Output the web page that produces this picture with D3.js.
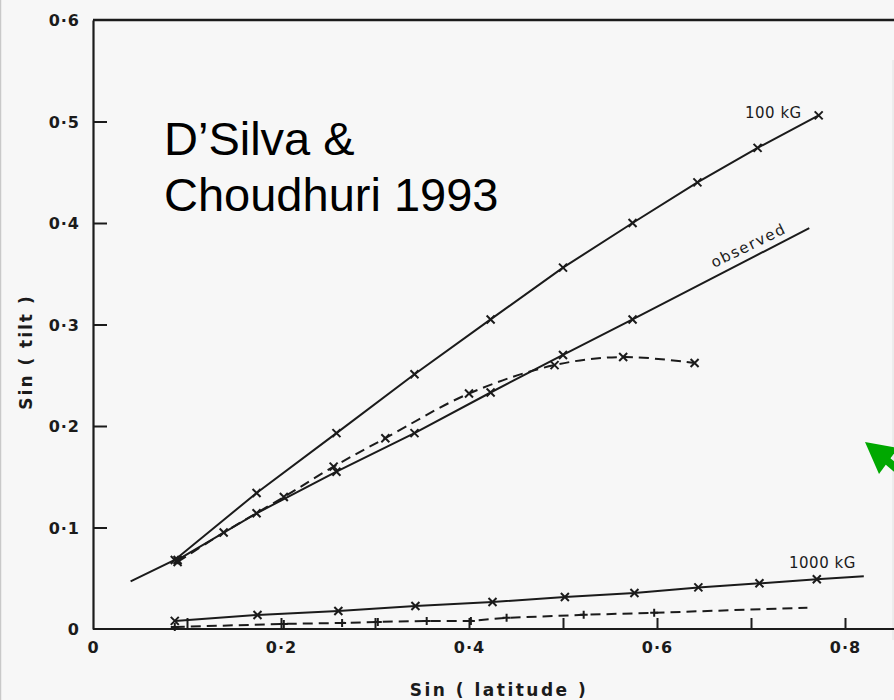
<!DOCTYPE html>
<html><head><meta charset="utf-8">
<script src="https://cdn.jsdelivr.net/npm/d3@7"></script>
<style>
html,body{margin:0;padding:0;background:#f7f7f7;}
svg{display:block;}
</style></head><body>
<svg id="c" width="894" height="700"></svg>
<script>
// ---- data ----
const lat100 = [0.040, 0.087, 0.174, 0.259, 0.342, 0.423, 0.500, 0.574, 0.643, 0.707, 0.772];
const tilt100 = [0.047, 0.068, 0.134, 0.193, 0.251, 0.305, 0.356, 0.400, 0.440, 0.474, 0.506];

const latObs = [0.090, 0.174, 0.259, 0.342, 0.423, 0.500, 0.574, 0.762];
const tiltObs = [0.068, 0.114, 0.155, 0.193, 0.233, 0.270, 0.305, 0.395];

const latObsData = [0.090, 0.139, 0.203, 0.256, 0.311, 0.400, 0.491, 0.564, 0.640];
const tiltObsData = [0.066, 0.095, 0.130, 0.160, 0.188, 0.232, 0.260, 0.268, 0.262];

const lat1000 = [0.087, 0.175, 0.261, 0.343, 0.425, 0.502, 0.576, 0.644, 0.709, 0.770, 0.820];
const tilt1000 = [0.008, 0.0138, 0.0177, 0.0227, 0.0266, 0.0315, 0.0355, 0.041, 0.045, 0.049, 0.052];

const lat1000d = [0.087, 0.203, 0.265, 0.303, 0.355, 0.402, 0.440, 0.522, 0.597, 0.760];
const tilt1000d = [0.002, 0.005, 0.006, 0.007, 0.008, 0.008, 0.011, 0.014, 0.016, 0.021];

const yTickValues = [0, 0.1, 0.2, 0.3, 0.4, 0.5, 0.6];
const xTickValues = [0, 0.1, 0.2, 0.3, 0.4, 0.5, 0.6, 0.7, 0.8];
const xLabelValues = [0, 0.2, 0.4, 0.6, 0.8];

const yTitle = "Sin ( tilt )";
const xTitle = "Sin ( latitude )";
const note = ["D\u2019Silva &", "Choudhuri 1993"];

// ---- drawing ----
const W = 894, H = 700;
const svg = d3.select("#c");
const x = d3.scaleLinear().domain([0, 0.8]).range([93, 845]);
const y = d3.scaleLinear().domain([0, 0.6]).range([629, 20]);
const ink = "#1b1b1b";
const fmt = v => v === 0 ? "0" : d3.format(".1f")(v).replace(".", "\u00b7");

// page border lines (scan edges)
svg.append("line").attr("x1", 0.5).attr("x2", 0.5).attr("y1", 0).attr("y2", H)
  .attr("stroke", "#c9c9c9").attr("stroke-width", 1.5);
svg.append("line").attr("x1", W - 1).attr("x2", W - 1).attr("y1", 60).attr("y2", 640)
  .attr("stroke", "#e2e2e2").attr("stroke-width", 1);

// axes
const yAxis = d3.axisLeft(y).tickValues(yTickValues).tickFormat(fmt)
  .tickSizeInner(-14).tickSizeOuter(0).tickPadding(13);
const gy = svg.append("g").attr("transform", `translate(${x(0)},0)`).call(yAxis);
gy.select(".domain").attr("stroke", ink).attr("stroke-width", 2.2);
gy.selectAll(".tick line").attr("stroke", ink).attr("stroke-width", 2)
  .filter(d => d === 0 || d === 0.6).remove();
gy.selectAll(".tick text").attr("fill", ink)
  .style("font-family", "DejaVu Sans").style("font-size", "16px").style("font-weight", "bold")
  .style("letter-spacing", "1px").attr("dy", "0.36em");

const xAxis = d3.axisBottom(x).tickValues(xTickValues)
  .tickFormat(d => xLabelValues.includes(d) ? fmt(d) : "")
  .tickSizeInner(-11).tickSizeOuter(0).tickPadding(13);
const gx = svg.append("g").attr("transform", `translate(0,${y(0)})`).call(xAxis);
gx.select(".domain").remove();
gx.selectAll(".tick line").attr("stroke", ink).attr("stroke-width", 2)
  .filter(d => d === 0).remove();
gx.selectAll(".tick text").attr("fill", ink)
  .style("font-family", "DejaVu Sans").style("font-size", "16px").style("font-weight", "bold")
  .style("letter-spacing", "1px");
// bottom & top frame lines extending to the page edge
svg.append("line").attr("x1", x(0)).attr("x2", W).attr("y1", y(0)).attr("y2", y(0))
  .attr("stroke", ink).attr("stroke-width", 2.2);
svg.append("line").attr("x1", x(0)).attr("x2", W).attr("y1", y(0.6)).attr("y2", y(0.6))
  .attr("stroke", ink).attr("stroke-width", 2.6);

// axis titles
svg.append("text").attr("transform", `translate(26,352) rotate(-90)`)
  .attr("text-anchor", "middle").attr("dy", "0.35em").attr("fill", ink)
  .style("font-family", "DejaVu Sans").style("font-size", "17px").style("font-weight", "bold")
  .style("letter-spacing", "2px").text(yTitle);
svg.append("text").attr("x", 499).attr("y", 696).attr("text-anchor", "middle").attr("fill", ink)
  .style("font-family", "DejaVu Sans").style("font-size", "17px").style("font-weight", "bold")
  .style("letter-spacing", "2.5px").text(xTitle);

// series
function series(xs, ys, opts) {
  const pts = xs.map((v, i) => [x(v), y(ys[i])]);
  const line = d3.line().curve(opts.curve || d3.curveLinear);
  svg.append("path").attr("d", line(pts)).attr("fill", "none").attr("stroke", ink)
    .attr("stroke-width", 2).attr("stroke-dasharray", opts.dash || null)
    .attr("stroke-linecap", "butt");
  const mk = pts.slice(opts.from || 0, opts.to === undefined ? pts.length : opts.to);
  const s = opts.size || 4;
  svg.append("g").selectAll("path").data(mk).join("path")
    .attr("d", ([px, py]) => opts.shape === "plus"
      ? `M${px - s},${py}L${px + s},${py}M${px},${py - s}L${px},${py + s}`
      : `M${px - s},${py - s}L${px + s},${py + s}M${px - s},${py + s}L${px + s},${py - s}`)
    .attr("stroke", ink).attr("stroke-width", 2);
}
series(lat100, tilt100, {from: 1});
series(latObs, tiltObs, {from: 0, to: latObs.length - 1});
series(latObsData, tiltObsData, {dash: "10,6", curve: d3.curveCatmullRom});
series(lat1000, tilt1000, {from: 0, to: lat1000.length - 1});
series(lat1000d, tilt1000d, {dash: "10,6", shape: "plus", from: 0, to: lat1000d.length - 1});

// curve labels
svg.append("text").attr("x", 745).attr("y", 118).attr("fill", ink)
  .style("font-family", "DejaVu Sans").style("font-size", "15px").style("letter-spacing", "0.5px")
  .text("100 kG");
svg.append("text").attr("x", 789).attr("y", 568).attr("fill", ink)
  .style("font-family", "DejaVu Sans").style("font-size", "15px").style("letter-spacing", "0.5px")
  .text("1000 kG");
svg.append("text").attr("transform", "translate(714,268) rotate(-26)").attr("fill", ink)
  .style("font-family", "DejaVu Sans").style("font-size", "15px").style("letter-spacing", "1.5px")
  .text("observed");

// annotation
const t = svg.append("text").attr("fill", "#000")
  .style("font-family", "Liberation Sans, Arial, sans-serif").style("font-size", "47px");
t.append("tspan").attr("x", 164).attr("y", 155).text(note[0]);
t.append("tspan").attr("x", 164).attr("y", 211).text(note[1]);

// green arrow (pointer)
svg.append("line").attr("x1", 884).attr("y1", 458).attr("x2", 910).attr("y2", 480)
  .attr("stroke", "#00a800").attr("stroke-width", 8);
svg.append("path").attr("d", "M865,442L879,474L898,448Z").attr("fill", "#00a800");
</script>
</body></html>
